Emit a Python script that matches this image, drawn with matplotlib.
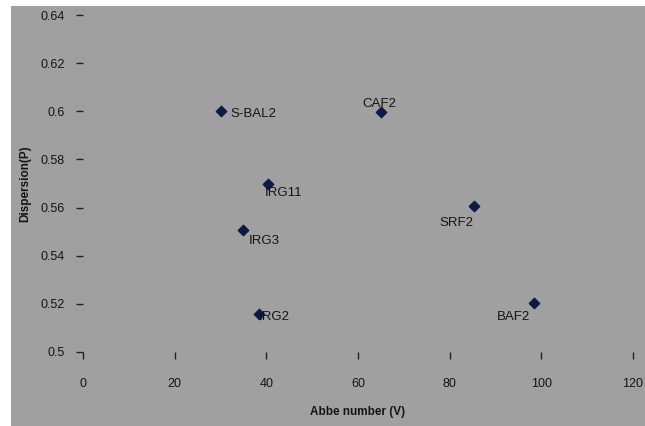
import matplotlib
matplotlib.use("Agg")
import matplotlib.pyplot as plt
from matplotlib.patches import Rectangle

materials = ["S-BAL2", "CAF2", "IRG11", "SRF2", "IRG3", "IRG2", "BAF2"]
abbe = [30, 65, 40.3, 85.2, 35, 38.3, 98.3]
dispersion = [0.600, 0.5995, 0.570, 0.5607, 0.5505, 0.5158, 0.5202]
label_offsets = {"S-BAL2": (10, -3, "left"), "CAF2": (-2, 8, "center"),
                 "IRG11": (-3, -9, "left"), "SRF2": (-17, -17, "center"),
                 "IRG3": (5, -11, "left"), "IRG2": (0, -3, "left"),
                 "BAF2": (-20, -14, "center")}
xticks = [0, 20, 40, 60, 80, 100, 120]
yticks = [0.5, 0.52, 0.54, 0.56, 0.58, 0.6, 0.62, 0.64]
ytick_labels = ["0.5", "0.52", "0.54", "0.56", "0.58", "0.6", "0.62", "0.64"]

fig = plt.figure(figsize=(6.45, 4.26), dpi=100)
fig.patch.set_facecolor("white")
fig.add_artist(Rectangle((11 / 645, 0), 1 - 11 / 645, 1 - 6 / 426,
                         transform=fig.transFigure, facecolor="#a0a0a0",
                         edgecolor="none", zorder=0))

ax = fig.add_axes([83 / 645, 1 - 352 / 426, (633 - 83) / 645, (352 - 15) / 426])
ax.set_facecolor("none")
for s in ax.spines.values():
    s.set_visible(False)

ax.scatter(abbe, dispersion, marker="D", s=28, color="#0c1a45", zorder=3)
for m, x, y in zip(materials, abbe, dispersion):
    dx, dy, ha = label_offsets[m]
    ax.annotate(m, (x, y), xytext=(dx, dy), textcoords="offset pixels",
                ha=ha, va="center", fontsize=9.5, color="#151515",
                fontfamily="Liberation Sans")

ax.set_xlim(0, 120)
ax.set_ylim(0.5, 0.64)
ax.set_xticks(xticks)
ax.set_xticklabels([str(v) for v in xticks])
ax.set_yticks(yticks)
ax.set_yticklabels(ytick_labels)
ax.tick_params(axis="x", direction="out", length=5, width=1, color="#202020",
               pad=14, labelsize=9, labelcolor="#151515")
ax.tick_params(axis="y", direction="out", length=5, width=1, color="#202020",
               pad=8, labelsize=9, labelcolor="#151515")
for lab in ax.get_xticklabels() + ax.get_yticklabels():
    lab.set_fontfamily("Liberation Sans")

ax.set_xlabel("Abbe number (V)", fontsize=8.5, fontweight="bold",
              fontfamily="Liberation Sans", color="#151515", labelpad=11)
ax.set_ylabel("Dispersion(P)", fontsize=8.5, fontweight="bold",
              fontfamily="Liberation Sans", color="#151515", labelpad=7)

fig.savefig("out.png", dpi=100)
